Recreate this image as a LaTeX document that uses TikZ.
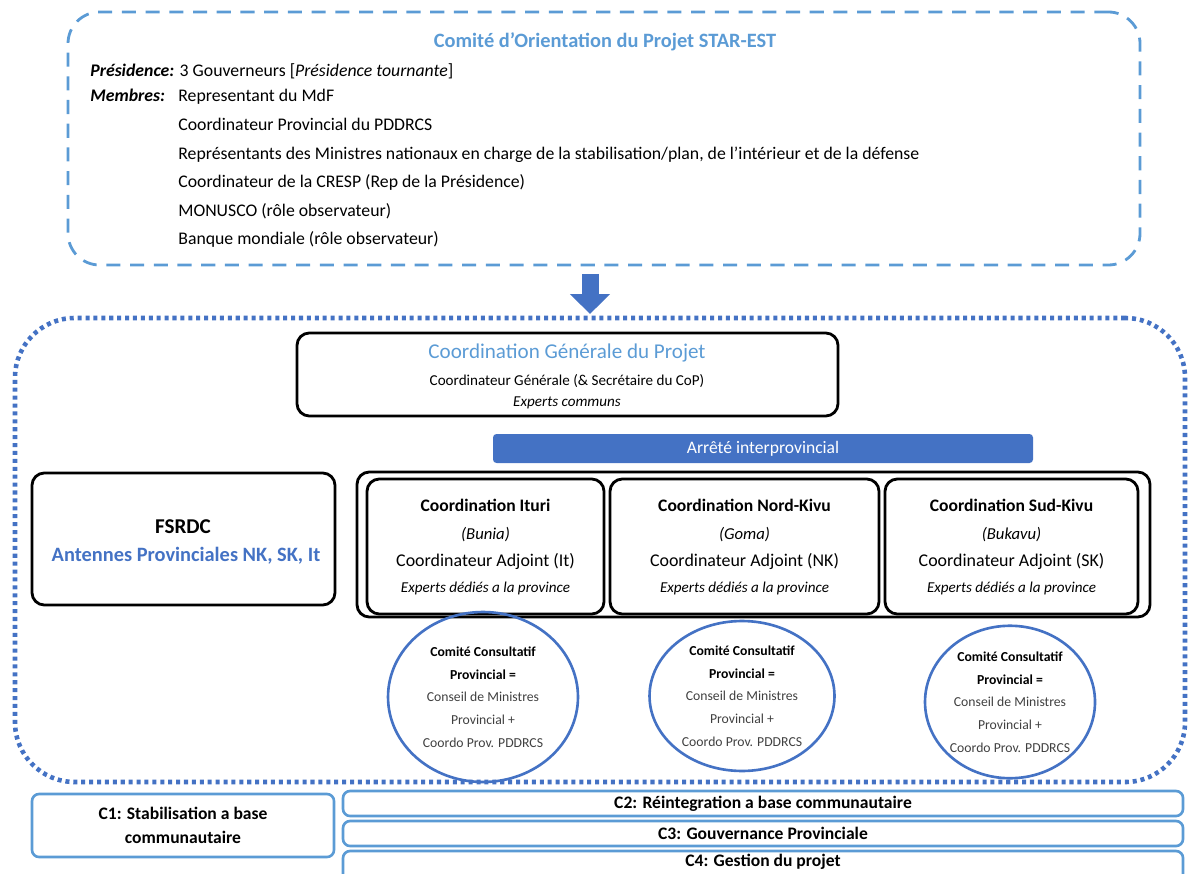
\documentclass[tikz,border=0pt]{standalone}
\usepackage{fontspec}
\setmainfont{Carlito}
\usetikzlibrary{fit,calc,shapes.geometric,arrows.meta}
\definecolor{bleuclair}{HTML}{5B9BD5}
\definecolor{bleu}{HTML}{4472C4}
\definecolor{gristexte}{HTML}{404040}
\newcommand{\taille}[1]{\fontsize{#1}{1.2\dimexpr#1pt\relax}\selectfont}

\begin{document}
\begin{tikzpicture}[x=0.02cm,y=-0.02cm,
  every node/.style={inner sep=0pt},
  cadre/.style={draw=black,line width=1.6pt,rounded corners=7pt},
  compo/.style={draw=bleuclair,line width=1.5pt,rounded corners=4pt},
  compotxt/.style={font=\bfseries\taille{10},align=center},
  ccp/.style={ellipse,draw=bleu,line width=1.5pt,align=center,font=\taille{7.8}},
  fleche/.style={bleu,line width=0.34cm,-{Triangle[width=0.78cm,length=0.4cm]}}]
\clip (0,0) rectangle (1195,874);

% comite d'orientation
\node[fit={(68,12) (1140,265)},draw=bleuclair,line width=1.6pt,
  dash pattern=on 8pt off 5.5pt,rounded corners=18pt] (cop) {};
\node[text=bleuclair,font=\bfseries\taille{11.6}] (coptitre) at (605,42)
  {Comité d’Orientation du Projet STAR-EST};
\node[anchor=base west,font=\taille{10.1}] (pres) at (90,77)
  {\textbf{\textit{Présidence:}} 3 Gouverneurs [\textit{Présidence tournante}]};
\node[anchor=base west,font=\taille{10.1}] (membres) at (90,102) {\textbf{\textit{Membres:}}};
\foreach \txt [count=\i] in {Representant du MdF,Coordinateur Provincial du PDDRCS,
  {Représentants des Ministres nationaux en charge de la stabilisation/plan, de l’intérieur et de la défense},
  Coordinateur de la CRESP (Rep de la Présidence),MONUSCO (rôle observateur),
  Banque mondiale (rôle observateur)}
  \node[anchor=base west,font=\taille{10.1}] (membre\i) at (178,{102+(\i-1)*28.6}) {\txt};

\coordinate (flecheA) at (590,274);
\coordinate (flecheB) at (590,314);
\draw[fleche] (flecheA) -- (flecheB);

% cadre du projet
\node[fit={(15,318) (1185,782)},draw=bleu,line width=2.6pt,
  dash pattern=on 2.3pt off 2.2pt,rounded corners=34pt] (projet) {};

\node[fit={(297,333) (838,416)},cadre] (cg) {};
\node[text=bleuclair,font=\taille{12}] (cgtitre) at (567,353) {Coordination Générale du Projet};
\node[font=\taille{8.6}] (cgcoord) at (567,381) {Coordinateur Générale (\& Secrétaire du CoP)};
\node[font=\itshape\taille{8.6}] (cgexperts) at (567,403) {Experts communs};

\node[fit={(493,434) (1033,463)},fill=bleu,rounded corners=2pt] (arrete) {};
\node[text=white,font=\taille{10}] (arretetxt) at (arrete) {Arrêté interprovincial};

\node[fit={(32,473) (335,605)},cadre] (fsrdc) {};
\node[font=\bfseries\taille{12}] (fsrdctitre) at (183,527) {FSRDC};
\node[font=\bfseries\taille{11.6},text=bleu] (antennes) at (186,556) {Antennes Provinciales NK, SK, It};

\node[fit={(357,472) (1150,617)},cadre] (provinces) {};
\foreach \nom/\lieu/\ville/\sigle/\xa/\xb in {ituri/Ituri/Bunia/It/367/604,
    nk/Nord-Kivu/Goma/NK/610/879,sk/Sud-Kivu/Bukavu/SK/885/1138}{
  \node[fit={(\xa,479) (\xb,614)},cadre] (\nom) {};
  \node[font=\bfseries\taille{10}] (\nom titre) at ($(\nom.north)+(0,28)$) {Coordination \lieu};
  \node[font=\itshape\taille{9.5}] (\nom ville) at ($(\nom.north)+(0,57)$) {(\ville)};
  \node[font=\taille{10.2}] (\nom adj) at ($(\nom.north)+(0,84)$) {Coordinateur Adjoint (\sigle)};
  \node[font=\itshape\taille{8.6}] (\nom exp) at ($(\nom.north)+(0,111)$) {Experts dédiés a la province};
}

\foreach \nom/\xc/\yc/\lx/\ly in {ituri/483/697/3.8cm/3.4cm,nk/742/696/3.7cm/3.0cm,
    sk/1010/702/3.4cm/3.05cm}
  \node[ccp,minimum width=\lx,minimum height=\ly] (ccp\nom) at (\xc,\yc)
    {\textbf{Comité Consultatif}\\[3.6pt]\textbf{Provincial =}\\[3.6pt]
     \textcolor{gristexte}{Conseil de Ministres}\\[3.6pt]\textcolor{gristexte}{Provincial +}\\[3.6pt]
     \textcolor{gristexte}{Coordo Prov. PDDRCS}};

% composantes
\node[fit={(32,794) (334,857)},compo] (c1) {};
\node[compotxt] (c1txt) at (c1) {C1: Stabilisation a base\\[2pt]communautaire};
\node[fit={(343,791) (1183,816)},compo] (c2) {};
\node[compotxt] (c2txt) at (c2) {C2: Réintegration a base communautaire};
\node[fit={(343,821) (1183,846)},compo] (c3) {};
\node[compotxt] (c3txt) at (c3) {C3: Gouvernance Provinciale};
\node[fit={(343,851) (1183,882)},compo] (c4) {};
\node[compotxt] (c4txt) at (763,862) {C4: Gestion du projet};
\end{tikzpicture}
\end{document}
